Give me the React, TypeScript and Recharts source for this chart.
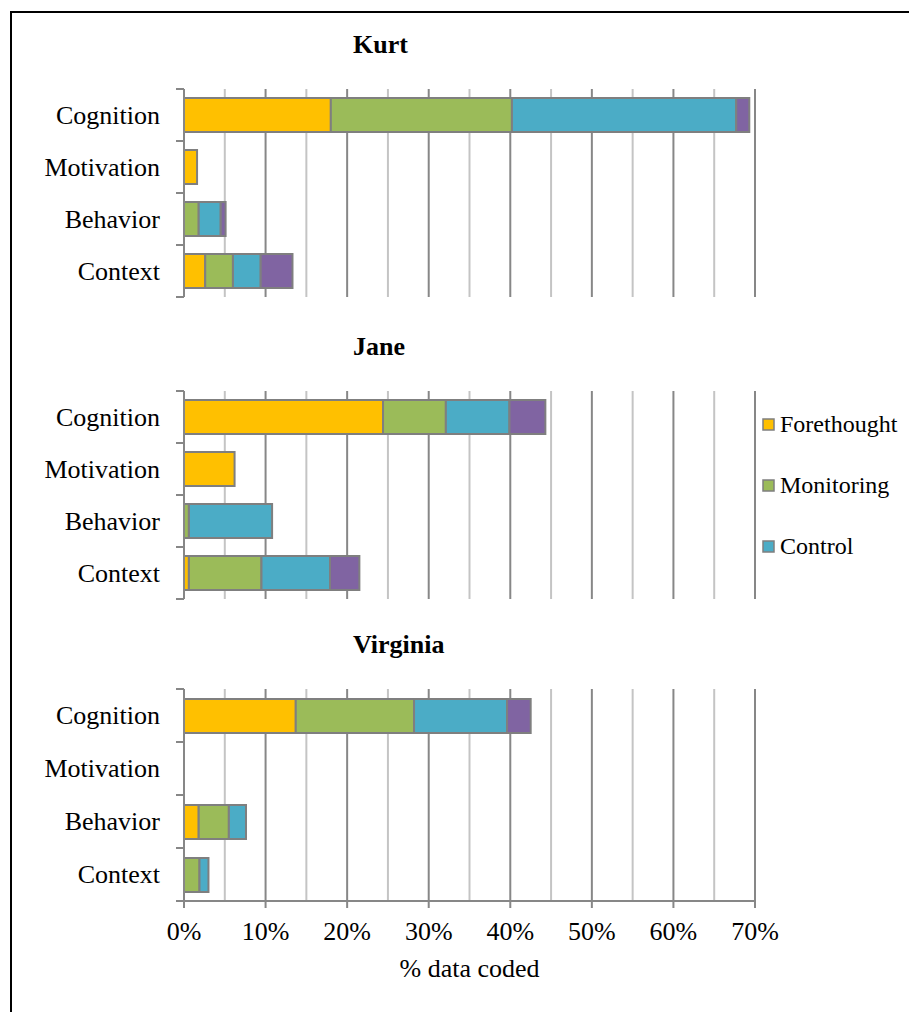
import { BarChart, Bar, XAxis, YAxis, CartesianGrid } from 'recharts'

const categories = ['Cognition', 'Motivation', 'Behavior', 'Context']

const kurtForethought = [18.0, 1.6, 0, 2.6]
const kurtMonitoring = [22.2, 0, 1.8, 3.4]
const kurtControl = [27.5, 0, 2.7, 3.4]
const kurtReflection = [1.6, 0, 0.6, 3.9]

const janeForethought = [24.4, 6.2, 0, 0.6]
const janeMonitoring = [7.7, 0, 0.6, 8.9]
const janeControl = [7.8, 0, 10.2, 8.4]
const janeReflection = [4.4, 0, 0, 3.6]

const virginiaForethought = [13.7, 0, 1.8, 0]
const virginiaMonitoring = [14.5, 0, 3.7, 1.9]
const virginiaControl = [11.4, 0, 2.1, 1.1]
const virginiaReflection = [2.9, 0, 0, 0]

const majorTicks = [0, 10, 20, 30, 40, 50, 60, 70]
const minorTicks = [5, 15, 25, 35, 45, 55, 65]

const series = [
    { key: 'forethought', name: 'Forethought', color: '#FFC000' },
    { key: 'monitoring', name: 'Monitoring', color: '#9BBB59' },
    { key: 'control', name: 'Control', color: '#4BACC6' },
    { key: 'reflection', name: 'Reflection', color: '#8064A2' },
]

const FONT = '"Liberation Serif", "Times New Roman", serif'
const AXIS = '#878787'
const PLOT_LEFT = 184
const PLOT_RIGHT = 755
const TOP_PAD = 40

function buildRows(f: number[], m: number[], c: number[], r: number[]) {
    return categories.map((name, i) => ({
        name,
        forethought: f[i],
        monitoring: m[i],
        control: c[i],
        reflection: r[i],
    }))
}

const panels = [
    {
        title: 'Kurt',
        rows: buildRows(kurtForethought, kurtMonitoring, kurtControl, kurtReflection),
        plotTop: 89,
        plotHeight: 208,
        showX: false,
    },
    {
        title: 'Jane',
        rows: buildRows(janeForethought, janeMonitoring, janeControl, janeReflection),
        plotTop: 391,
        plotHeight: 208,
        showX: false,
    },
    {
        title: 'Virginia',
        rows: buildRows(virginiaForethought, virginiaMonitoring, virginiaControl, virginiaReflection),
        plotTop: 689,
        plotHeight: 212,
        showX: true,
    },
]

function Panel({ rows, plotTop, plotHeight, showX }: any) {
    const band = plotHeight / categories.length
    const xHeight = showX ? 100 : 0
    const bottom = showX ? 0 : 3

    const yTick = (props: any) => {
        const { x, y, payload, index } = props
        const axisX = x + 24
        return (
            <g>
                <line x1={axisX - 8} x2={axisX} y1={y - band / 2} y2={y - band / 2} stroke={AXIS} strokeWidth={2} />
                {index === categories.length - 1 && (
                    <line x1={axisX - 8} x2={axisX} y1={y + band / 2} y2={y + band / 2} stroke={AXIS} strokeWidth={2} />
                )}
                <text x={x} y={y} dy='0.34em' textAnchor='end' fontFamily={FONT} fontSize={26} fill='#000'>
                    {payload.value}
                </text>
            </g>
        )
    }

    const xTick = (props: any) => {
        const { x, y, payload } = props
        if (payload.value % 10 !== 0) return <g />
        return (
            <g>
                <line x1={x} x2={x} y1={y - 7} y2={y} stroke={AXIS} strokeWidth={2} />
                <text x={x} y={y + 32} textAnchor='middle' fontFamily={FONT} fontSize={26} fill='#000'>
                    {payload.value + '%'}
                </text>
            </g>
        )
    }

    return (
        <div style={{ position: 'absolute', left: 0, top: plotTop - TOP_PAD }}>
            <BarChart
                width={909}
                height={TOP_PAD + plotHeight + xHeight + bottom}
                layout='vertical'
                data={rows}
                barSize={34}
                margin={{ top: TOP_PAD, right: 909 - PLOT_RIGHT, bottom: bottom, left: 0 }}
            >
                <CartesianGrid horizontal={false} verticalValues={minorTicks} stroke='#C4C4C4' strokeWidth={2} />
                <CartesianGrid horizontal={false} verticalValues={majorTicks} stroke={AXIS} strokeWidth={2} />
                <XAxis
                    type='number'
                    domain={[0, 70]}
                    ticks={[...majorTicks, ...minorTicks].sort((a, b) => a - b)}
                    interval={0}
                    hide={!showX}
                    height={xHeight}
                    tickLine={false}
                    tickSize={7}
                    tickMargin={0}
                    axisLine={{ stroke: AXIS, strokeWidth: 2 }}
                    tick={xTick}
                    label={{
                        value: '% data coded',
                        position: 'insideBottom',
                        offset: 24,
                        style: { fontFamily: FONT, fontSize: 26, fill: '#000' },
                    }}
                />
                <YAxis
                    type='category'
                    dataKey='name'
                    width={PLOT_LEFT}
                    tickLine={false}
                    tickSize={8}
                    tickMargin={16}
                    axisLine={{ stroke: AXIS, strokeWidth: 2 }}
                    tick={yTick}
                    interval={0}
                />
                {series.map((s) => (
                    <Bar
                        key={s.key}
                        dataKey={s.key}
                        name={s.name}
                        stackId='a'
                        fill={s.color}
                        stroke='#7F7F7F'
                        strokeWidth={2}
                        isAnimationActive={false}
                    />
                ))}
            </BarChart>
        </div>
    )
}

export default function App() {
    return (
        <div
            style={{
                position: 'absolute',
                left: 0,
                top: 0,
                width: 909,
                height: 1012,
                overflow: 'hidden',
                background: '#fff',
            }}
        >
            <div
                style={{
                    position: 'absolute',
                    left: 10,
                    top: 11,
                    width: 1000,
                    height: 1100,
                    border: '2px solid #000',
                }}
            />
            {panels.map((p) => (
                <Panel key={p.title} {...p} />
            ))}
            <svg
                width={909}
                height={1012}
                style={{ position: 'absolute', left: 0, top: 0, pointerEvents: 'none' }}
            >
                {panels.map((p) => (
                    <text
                        key={p.title}
                        x={353}
                        y={p.plotTop - 36}
                        fontFamily={FONT}
                        fontSize={26}
                        fontWeight='bold'
                        fill='#000'
                    >
                        {p.title}
                    </text>
                ))}
                {series.slice(0, 3).map((s, i) => (
                    <g key={s.key}>
                        <rect
                            x={763}
                            y={425 + i * 61 - 6}
                            width={11}
                            height={11}
                            fill={s.color}
                            stroke='#7F7F7F'
                            strokeWidth={1.5}
                        />
                        <text
                            x={780}
                            y={424 + i * 61}
                            dy='0.34em'
                            fontFamily={FONT}
                            fontSize={24}
                            fill='#000'
                        >
                            {s.name}
                        </text>
                    </g>
                ))}
            </svg>
        </div>
    )
}
